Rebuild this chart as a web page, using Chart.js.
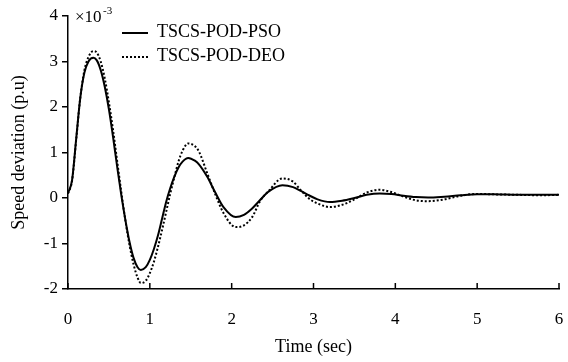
<!DOCTYPE html>
<html>
<head>
<meta charset="utf-8">
<script src="https://cdn.jsdelivr.net/npm/chart.js@4.4.0/dist/chart.umd.min.js"></script>
<style>
    html, body { margin: 0; padding: 0; background: #fff; }
    #wrap { width: 568px; height: 362px; }
</style>
</head>
<body>
<div id="wrap"><canvas id="speed-chart" width="568" height="362"></canvas></div>
<script>
// time samples (sec)
var times = [0, 0.05, 0.1, 0.15, 0.2, 0.25, 0.31, 0.35, 0.4, 0.45, 0.5, 0.55, 0.6, 0.65, 0.7, 0.75, 0.8, 0.85, 0.89,
    0.95, 1.0, 1.05, 1.1, 1.15, 1.2, 1.25, 1.3, 1.35, 1.4, 1.47, 1.55, 1.6, 1.7, 1.8, 1.9, 2.05,
    2.15, 2.25, 2.35, 2.45, 2.62, 2.75, 2.85, 2.95, 3.05, 3.2, 3.35, 3.5, 3.65, 3.81,
    3.95, 4.1, 4.25, 4.4, 4.6, 4.8, 5.0, 5.2, 5.5, 5.8, 6.0];

// speed deviation (x10^-3 p.u)
var psoValues = [0.1, 0.4, 1.3, 2.2, 2.75, 3.0, 3.08, 3.03, 2.81, 2.44, 1.95, 1.35, 0.7, 0.08, -0.47, -0.95, -1.31, -1.52, -1.58,
    -1.52, -1.36, -1.12, -0.82, -0.45, -0.08, 0.22, 0.47, 0.67, 0.8, 0.88, 0.82, 0.74, 0.47, 0.12, -0.2, -0.42,
    -0.37, -0.23, -0.04, 0.14, 0.28, 0.24, 0.15, 0.055, -0.03, -0.09, -0.06, 0.0, 0.07, 0.1,
    0.09, 0.05, 0.02, 0.01, 0.03, 0.06, 0.08, 0.08, 0.07, 0.07, 0.07];

var deoValues = [0.1, 0.38, 1.28, 2.2, 2.8, 3.1, 3.23, 3.2, 3.0, 2.62, 2.1, 1.5, 0.82, 0.15, -0.48, -1.02, -1.45, -1.75, -1.87,
    -1.82, -1.65, -1.4, -1.07, -0.7, -0.3, 0.1, 0.46, 0.8, 1.04, 1.2, 1.14, 1.02, 0.55, 0.08, -0.33, -0.64,
    -0.6, -0.42, -0.06, 0.15, 0.43, 0.36, 0.16, -0.02, -0.12, -0.2, -0.15, -0.03, 0.12, 0.18,
    0.13, 0.03, -0.05, -0.07, -0.03, 0.05, 0.09, 0.08, 0.07, 0.06, 0.07];

var xTicks = [0, 1, 2, 3, 4, 5, 6];
var yTicks = [-2, -1, 0, 1, 2, 3, 4];
var seriesNames = ["TSCS-POD-PSO", "TSCS-POD-DEO"];

var serif = "'Liberation Serif', 'DejaVu Serif', serif";

function toPoints(vals) {
    return times.map(function (t, i) { return { x: t, y: vals[i] }; });
}

// inward x ticks, legend and the x10^-3 marker
var decorPlugin = {
    id: 'decor',
    afterDraw: function (chart) {
        var ctx = chart.ctx;
        var xs = chart.scales.x;
        var area = chart.chartArea;
        ctx.save();
        ctx.strokeStyle = '#000';
        ctx.lineWidth = 1.5;
        xTicks.forEach(function (v) {
            var px = xs.getPixelForValue(v);
            ctx.beginPath();
            ctx.moveTo(px, area.bottom);
            ctx.lineTo(px, area.bottom - 6);
            ctx.stroke();
        });
        // legend
        var lx = 122, rows = [32, 56];
        ctx.font = '18px ' + serif;
        ctx.fillStyle = '#000';
        ctx.textBaseline = 'middle';
        rows.forEach(function (ry, i) {
            ctx.beginPath();
            ctx.lineWidth = 2;
            ctx.setLineDash(i === 0 ? [] : [2, 2]);
            ctx.moveTo(lx, ry + 1);
            ctx.lineTo(lx + 26, ry + 1);
            ctx.stroke();
            ctx.setLineDash([]);
            ctx.fillText(seriesNames[i], 157, ry);
        });
        // exponent
        ctx.font = '17px ' + serif;
        ctx.fillText('\u00d710', 75, 18);
        ctx.font = '11px ' + serif;
        ctx.fillText('-3', 103, 11);
        ctx.restore();
    }
};

var ctx = document.getElementById('speed-chart').getContext('2d');
var chart = new Chart(ctx, {
    type: 'line',
    data: {
        datasets: [{
            label: seriesNames[0],
            data: toPoints(psoValues),
            borderColor: '#000',
            borderWidth: 2,
            pointRadius: 0,
            cubicInterpolationMode: 'monotone'
        }, {
            label: seriesNames[1],
            data: toPoints(deoValues),
            borderColor: '#000',
            borderWidth: 2,
            borderDash: [2, 2],
            pointRadius: 0,
            cubicInterpolationMode: 'monotone'
        }]
    },
    options: {
        responsive: false,
        animation: false,
        layout: { padding: { top: 16, right: 9, left: 4, bottom: 0 } },
        plugins: { legend: { display: false }, tooltip: { enabled: false } },
        scales: {
            x: {
                type: 'linear',
                min: 0, max: 6,
                afterBuildTicks: function (s) { s.ticks = xTicks.map(function (v) { return { value: v }; }); },
                afterFit: function (s) { s.height = 73; s.paddingRight = 0; s.paddingLeft = 0; },
                grid: { display: false },
                border: { display: true, color: '#000', width: 1.5 },
                ticks: { color: '#000', font: { family: serif, size: 17 }, padding: 12 },
                title: { display: true, text: 'Time (sec)', color: '#000', font: { family: serif, size: 18 }, padding: { top: 14 } }
            },
            y: {
                min: -2, max: 4,
                afterBuildTicks: function (s) { s.ticks = yTicks.map(function (v) { return { value: v }; }); },
                afterFit: function (s) { s.width = 64; s.paddingTop = 0; s.paddingBottom = 0; },
                grid: { drawOnChartArea: false, tickLength: 6, color: '#000', lineWidth: 1.5 },
                border: { display: true, color: '#000', width: 1.5 },
                ticks: { color: '#000', font: { family: serif, size: 17 }, padding: 4 },
                title: { display: true, text: 'Speed deviation (p.u)', color: '#000', font: { family: serif, size: 18 }, padding: { bottom: 4 } }
            }
        }
    },
    plugins: [decorPlugin]
});
</script>
</body>
</html>
